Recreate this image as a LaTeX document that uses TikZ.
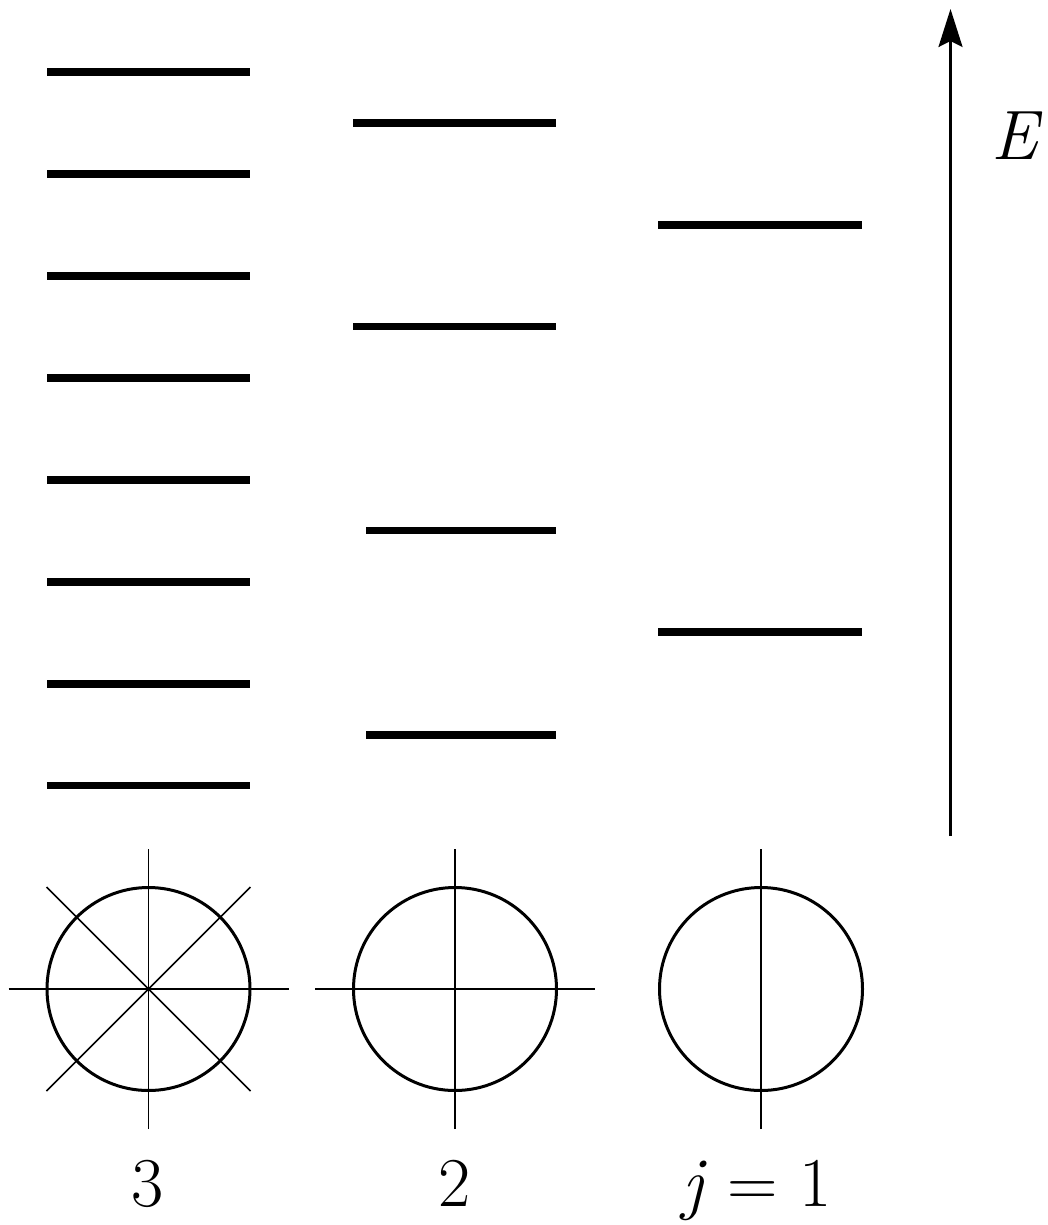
\documentclass[tikz,border=0pt]{standalone}
\usepackage{fontspec}
\usetikzlibrary{arrows.meta}
\tikzset{
  level/.style={line width=7.5pt},
  orbit/.style={line width=3pt},
  axisline/.style={line width=1.5pt},
  energy/.style={line width=2.5pt,-{Stealth[length=38pt,width=24pt,inset=6pt]}},
  lbl/.style={anchor=base,inner sep=0pt,font=\fontsize{70}{84}\selectfont}
}
\begin{document}
\begin{tikzpicture}[x=1pt,y=-1pt]
\useasboundingbox[fill=white] (0,0) rectangle (1048,1225);
% j = 3 levels
\foreach \yy in {72,174,276,378,480,582,684,785.5}
  \draw[level] (47,\yy) -- (250,\yy);
% j = 2 levels
\draw[level] (353,123) -- (556,123);
\draw[level] (353,326.5) -- (556,326.5);
\draw[level] (366,530.5) -- (556,530.5);
\draw[level] (366,735) -- (556,735);
% j = 1 levels
\draw[level] (658,225) -- (862,225);
\draw[level] (658,632) -- (862,632);
% energy axis
\coordinate (ebot) at (950.5,836);
\coordinate (etop) at (950.5,9);
\draw[energy] (ebot) -- (etop);
\node[lbl] (elabel) at (1017,160) {\textit{E}};
% circles
\coordinate (c3) at (148.5,989);
\coordinate (c2) at (455,989);
\coordinate (c1) at (761,989);
\draw[orbit] (c3) circle[radius=101.5];
\draw[axisline] ([yshift=-140pt]c3) -- ([yshift=140pt]c3);
\draw[axisline] ([xshift=-140pt]c3) -- ([xshift=140pt]c3);
\draw[axisline] ([shift={(-102pt,-102pt)}]c3) -- ([shift={(102pt,102pt)}]c3);
\draw[axisline] ([shift={(-102pt,102pt)}]c3) -- ([shift={(102pt,-102pt)}]c3);
\draw[orbit] (c2) circle[radius=101.5];
\draw[axisline] ([yshift=-140pt]c2) -- ([yshift=140pt]c2);
\draw[axisline] ([xshift=-140pt]c2) -- ([xshift=140pt]c2);
\draw[orbit] (c1) circle[radius=101.5];
\draw[axisline] ([yshift=-140pt]c1) -- ([yshift=140pt]c1);
% labels
\node[lbl] (l3) at (148,1206) {3};
\node[lbl] (l2) at (455,1206) {2};
\node[lbl] (l1) at (757,1206) {\textit{j} = 1};
\end{tikzpicture}
\end{document}
